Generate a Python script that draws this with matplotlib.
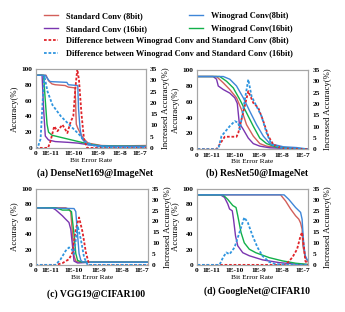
import matplotlib
matplotlib.use("Agg")
import matplotlib.pyplot as plt

plt.rcParams['font.family'] = ['Liberation Serif', 'DejaVu Serif']
plt.rcParams['font.weight'] = 'bold'

# x values are positions along the bit-error-rate axis (in decades);
# the tick labels sit where the original figure puts them
tick_pos = [-11.69, -11.1, -10.18, -9.2, -8.3, -7.48]
tick_labels = ["0", "1E-11", "1E-10", "1E-9", "1E-8", "1E-7"]

# ---- (a) DenseNet169@ImageNet
a_std8_x = [-11.71, -11.28, -11.18, -11.04, -10.91, -10.51, -10.38, -10.11, -10.09, -10.06, -10.00, -9.84, -9.71, -9.58, -9.04, -8.38, -7.25]
a_std8_y = [92, 92, 85, 81, 80, 79, 77, 76, 60, 30, 25, 15, 10, 6, 3, 2.5, 3]
a_win8_x = [-11.71, -11.31, -11.18, -11.11, -10.44, -10.38, -10.00, -9.97, -9.91, -9.84, -9.71, -9.58, -9.04, -8.38, -7.25]
a_win8_y = [92, 92, 86, 84, 83, 80, 79, 50, 25, 12, 7, 4, 2.5, 2, 2]
a_std16_x = [-11.71, -11.44, -11.38, -11.31, -11.18, -10.91, -10.38, -9.98, -9.58, -9.04, -7.25]
a_std16_y = [92, 92, 50, 15, 10, 8, 7, 6, 4, 2, 1.5]
a_win16_x = [-11.71, -11.38, -11.31, -11.24, -11.18, -11.04, -10.64, -10.24, -9.84, -9.58, -9.04, -7.25]
a_win16_y = [92, 92, 60, 30, 20, 16, 13, 10, 7, 5, 2.5, 2]
a_diff8_x = [-11.71, -11.2, -11.1, -10.95, -10.82, -10.62, -10.42, -10.28, -10.18, -10.10, -10.02, -9.95, -9.85, -9.75, -9.62, -7.25]
a_diff8_y = [0, 0, 3, 9.6, 7.4, 10.3, 6.6, 11.8, 14, 26, 35, 30, 15, 4, 0, 0]
a_diff16_x = [-11.71, -11.62, -11.5, -11.42, -11.35, -11.22, -11.02, -10.68, -10.28, -9.95, -9.68, -9.28, -8.5, -7.25]
a_diff16_y = [0, 0, 4, 20, 32, 25, 19, 14, 9.6, 6, 2.6, 0.7, 0, 0]

# ---- (b) ResNet50@ImageNet
b_std16_x = [-11.67, -11.04, -10.91, -10.84, -10.64, -10.38, -10.18, -10.08, -10.00, -9.84, -9.64, -9.44, -9.18, -8.78, -7.71, -7.23]
b_std16_y = [92, 92, 88.6, 80, 75.5, 71, 65, 58, 33, 25, 14, 7, 3.8, 1.7, 0.4, 0]
b_std8_x = [-11.67, -10.91, -10.64, -10.38, -10.11, -9.91, -9.71, -9.44, -9.18, -8.91, -8.38, -7.23]
b_std8_y = [92, 92, 84, 75.5, 65, 50, 31, 16.5, 7, 3.8, 1.7, 0]
b_win16_x = [-11.67, -10.78, -10.51, -10.24, -9.98, -9.71, -9.44, -9.18, -8.91, -8.51, -7.23]
b_win16_y = [92, 92, 86, 77.6, 62.9, 46, 29, 14, 7, 2.5, 0]
b_win8_x = [-11.67, -10.64, -10.38, -10.11, -9.84, -9.58, -9.31, -9.04, -8.78, -8.24, -7.71, -7.23]
b_win8_y = [92, 92, 88.6, 80, 65, 48, 31, 16.5, 7, 3, 2, 0]
b_diff8_x = [-11.67, -10.91, -10.58, -10.11, -10.04, -9.64, -9.44, -9.24, -9.04, -8.84, -8.64, -8.24, -7.23]
b_diff8_y = [0, 0, 5.5, 5.5, 7.2, 25.7, 20.5, 18.3, 12.4, 5.8, 2, 0.3, 0]
b_diff16_x = [-11.67, -10.84, -10.71, -10.38, -10.18, -10.04, -9.98, -9.64, -9.51, -9.31, -9.11, -8.91, -8.71, -8.24, -7.23]
b_diff16_y = [0, 0, 5.8, 10.2, 12.4, 11.7, 8.7, 30.9, 23.5, 19, 14.6, 7.2, 2, 0.3, 0]

# ---- (c) VGG19@CIFAR100
c_std16_x = [-11.71, -11.04, -10.91, -10.64, -10.51, -10.38, -10.31, -10.24, -10.18, -10.04, -9.5, -7.25]
c_std16_y = [75, 75, 72.4, 64.5, 60, 55.7, 47, 25, 5, 2.5, 3.5, 3.5]
c_win16_x = [-11.71, -10.91, -10.64, -10.38, -10.28, -10.18, -10.11, -10.04, -9.91, -9.5, -7.25]
c_win16_y = [75, 75, 72, 72, 70, 40, 15, 6, 4, 3.5, 3.5]
c_std8_x = [-11.71, -10.51, -10.38, -10.31, -10.24, -10.18, -10.11, -9.98, -9.5, -7.25]
c_std8_y = [75, 75, 73, 70, 40, 12, 5, 3.5, 3.5, 3.5]
c_win8_x = [-11.71, -10.18, -10.11, -10.04, -9.98, -9.91, -9.84, -9.5, -7.25]
c_win8_y = [75, 74, 70, 40, 15, 6, 4, 3.5, 3.5]
c_diff8_x = [-11.71, -10.91, -10.64, -10.38, -10.24, -10.11, -9.98, -9.84, -9.71, -9.58, -7.25]
c_diff8_y = [0, 0, 0.8, 2.6, 5.7, 16.4, 21.8, 15, 5.7, 0, 0]
c_diff16_x = [-11.71, -10.91, -10.71, -10.51, -10.38, -10.28, -10.18, -10.04, -9.91, -9.78, -9.64, -7.25]
c_diff16_y = [0, 0, 2.6, 6.5, 8, 7.5, 5, 18, 11.8, 3.4, 0, 0]

# ---- (d) GoogleNet@CIFAR10
d_std16_x = [-11.67, -10.75, -10.59, -10.46, -10.39, -10.28, -10.23, -10.15, -10.06, -9.86, -9.60, -9.07, -8.41, -7.75, -7.23]
d_std16_y = [92, 92, 88.6, 80, 73.5, 71, 60, 38, 25, 16, 12, 6.6, 3, 1, 0.3]
d_win16_x = [-11.67, -10.65, -10.46, -10.26, -10.13, -10.06, -9.93, -9.80, -9.60, -9.34, -8.81, -8.28, -7.75, -7.23]
d_win16_y = [92, 92, 86, 78, 75.4, 64.5, 42.5, 29, 20.6, 16, 9.6, 5.3, 2.2, 0.5]
d_std8_x = [-11.67, -8.35, -8.15, -7.95, -7.75, -7.62, -7.55, -7.49, -7.46, -7.36, -7.23]
d_std8_y = [92, 92, 84, 73.5, 64.5, 60, 55, 47, 25, 9.6, 3]
d_win8_x = [-11.67, -8.21, -8.02, -7.75, -7.55, -7.49, -7.42, -7.36, -7.29, -7.23]
d_win8_y = [92, 92, 86, 75.4, 69, 60, 25, 12, 7, 5]
d_diff8_x = [-11.67, -8.15, -7.88, -7.69, -7.55, -7.49, -7.42, -7.36, -7.23]
d_diff8_y = [0, 0, 3.4, 7.2, 13.4, 15, 8.8, 1.8, 0]
d_diff16_x = [-11.67, -10.79, -10.65, -10.52, -10.39, -10.19, -9.99, -9.80, -9.66, -9.47, -9.27, -9.07, -8.81, -8.54, -7.23]
d_diff16_y = [0, 0, 3.4, 5.7, 4.9, 8, 15, 21.8, 19.5, 13.4, 8, 4.1, 1.4, 0.3, 0]

C_STD8 = "#d35f5a"
C_STD16 = "#7a35b0"
C_WIN8 = "#3f86d8"
C_WIN16 = "#12b04a"
C_DIFF8 = "#e0242a"
C_DIFF16 = "#2f95df"

fig = plt.figure(figsize=(3.45, 3.12), dpi=100)


def panel(rect, d, caption, ylab, cap_y):
    ax = fig.add_axes(rect)
    ax.plot(d["std8"][0], d["std8"][1], color=C_STD8, lw=1.0)
    ax.plot(d["std16"][0], d["std16"][1], color=C_STD16, lw=1.0)
    ax.plot(d["win16"][0], d["win16"][1], color=C_WIN16, lw=1.0)
    ax.plot(d["win8"][0], d["win8"][1], color=C_WIN8, lw=1.0)
    ax.set_ylim(0, 100)
    ax.set_xlim(-11.69, -7.25)
    ax.set_yticks([0, 20, 40, 60, 80, 100])
    ax.set_xticks(tick_pos)
    ax.set_xticklabels(tick_labels)
    ax.tick_params(length=0, labelsize=5.3, pad=2.5)
    ax.set_ylabel(ylab, fontsize=6.3, labelpad=2)
    ax.set_xlabel("Bit Error Rate", fontsize=5.3, labelpad=1)
    for s in ax.spines.values():
        s.set_color("#a6a6a6")
        s.set_linewidth(0.8)
    ax2 = ax.twinx()
    ax2.plot(d["diff8"][0], d["diff8"][1], color=C_DIFF8, lw=1.3, ls=(0, (1.5, 1)))
    ax2.plot(d["diff16"][0], d["diff16"][1], color=C_DIFF16, lw=1.3, ls=(0, (1.5, 1)))
    ax2.set_ylim(0, 35)
    ax2.set_yticks(range(0, 36, 5))
    ax2.tick_params(length=0, labelsize=5.3, pad=3)
    ax2.set_ylabel("Increased Accuracy(%)", fontsize=6.3, labelpad=3)
    for s in ax2.spines.values():
        s.set_color("#a6a6a6")
        s.set_linewidth(0.8)
    fig.text(rect[0] + rect[2] / 2 + 0.012, cap_y, caption, ha="center", va="center", fontsize=6.9)
    return ax


def pack(p):
    g = globals()
    return {k: (g[f"{p}_{k}_x"], g[f"{p}_{k}_y"]) for k in ["std8", "std16", "win8", "win16", "diff8", "diff16"]}


panel([0.104, 0.526, 0.319, 0.253], pack("a"), "(a) DenseNet169@ImageNet", "Accuracy(%)", 1 - 173 / 312)
panel([0.571, 0.522, 0.322, 0.253], pack("b"), "(b) ResNet50@ImageNet", "Accuracy(%)", 1 - 173 / 312)
panel([0.104, 0.151, 0.325, 0.244], pack("c"), "(c) VGG19@CIFAR100", "Accuracy (%)", 1 - 294 / 312)
panel([0.571, 0.151, 0.322, 0.244], pack("d"), "(d) GoogleNet@CIFAR10", "Accuracy (%)", 1 - 291 / 312)

# legend
h_std8 = plt.Line2D([], [], color=C_STD8, lw=1.0)
h_std16 = plt.Line2D([], [], color=C_STD16, lw=1.0)
h_win8 = plt.Line2D([], [], color=C_WIN8, lw=1.0)
h_win16 = plt.Line2D([], [], color=C_WIN16, lw=1.0)
h_d8 = plt.Line2D([], [], color=C_DIFF8, lw=1.3, ls=(0, (1.5, 1)))
h_d16 = plt.Line2D([], [], color=C_DIFF16, lw=1.3, ls=(0, (1.5, 1)))

leg_kw = dict(frameon=False, fontsize=6.0, handlelength=1.7, handletextpad=1.0,
              labelspacing=0.6, borderpad=0, borderaxespad=0, loc="upper left")
fig.legend([h_std8, h_std16], ["Standard Conv (8bit)", "Standard Conv (16bit)"],
           bbox_to_anchor=(44 / 345, 1 - 12 / 312), **leg_kw)
fig.legend([h_win8, h_win16], ["Winograd Conv(8bit)", "Winograd Conv(16bit)"],
           bbox_to_anchor=(189 / 345, 1 - 12 / 312), **leg_kw)
fig.legend([h_d8, h_d16], ["Difference between Winograd Conv and Standard Conv (8bit)",
                           "Difference between Winograd Conv and Standard Conv (16bit)"],
           bbox_to_anchor=(44 / 345, 1 - 37 / 312), **leg_kw)

fig.savefig("out.png", dpi=100)
